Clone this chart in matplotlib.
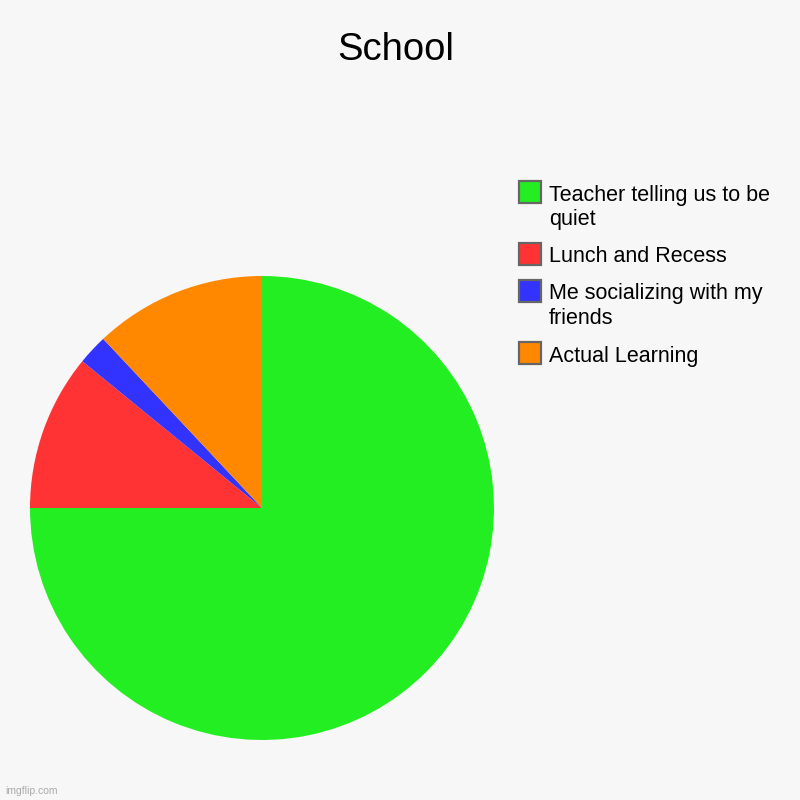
import matplotlib.pyplot as plt
from matplotlib.patches import Rectangle

plt.rcParams['font.family'] = ['Liberation Sans', 'DejaVu Sans']

# data
labels = ['Teacher telling us to be\nquiet', 'Lunch and Recess',
          'Me socializing with my\nfriends', 'Actual Learning']
values = [75, 10.9, 2.1, 12]
colors = ['#22ee22', '#ff3333', '#3333ff', '#ff8800']
bg = '#f7f7f7'

fig = plt.figure(figsize=(8, 8), dpi=100, facecolor=bg)
W = H = 800.0

# pie area: center (262,508), radius 232 px
ax = fig.add_axes([30 / W, 1 - 740 / H, 464 / W, 464 / H])
ax.set_facecolor(bg)
ax.pie(values, colors=colors, startangle=90, counterclock=False,
       wedgeprops=dict(linewidth=0))
ax.set_aspect('equal')
ax.set_xlim(-1, 1)
ax.set_ylim(-1, 1)
ax.axis('off')

fig.text(0.494, 1 - 50 / H, 'School', ha='center', va='center', fontsize=27.5)

# legend drawn by hand
box_y = [192, 254, 291, 353]
for lab, col, y in zip(labels, colors, box_y):
    fig.add_artist(Rectangle((519 / W, 1 - (y + 11) / H), 22 / W, 22 / H,
                             transform=fig.transFigure, facecolor=col,
                             edgecolor='#666666', linewidth=1.6))
    lines = lab.split('\n')
    for i, line in enumerate(lines):
        fig.text(549 / W, 1 - (y + 3 + 25 * i) / H, line, ha='left',
                 va='center', fontsize=15.5)

fig.text(5 / W, 1 - 791 / H, 'imgflip.com', fontsize=7.5, color='#aaaaaa',
         va='center')

fig.savefig('out.png', dpi=100, facecolor=bg)
